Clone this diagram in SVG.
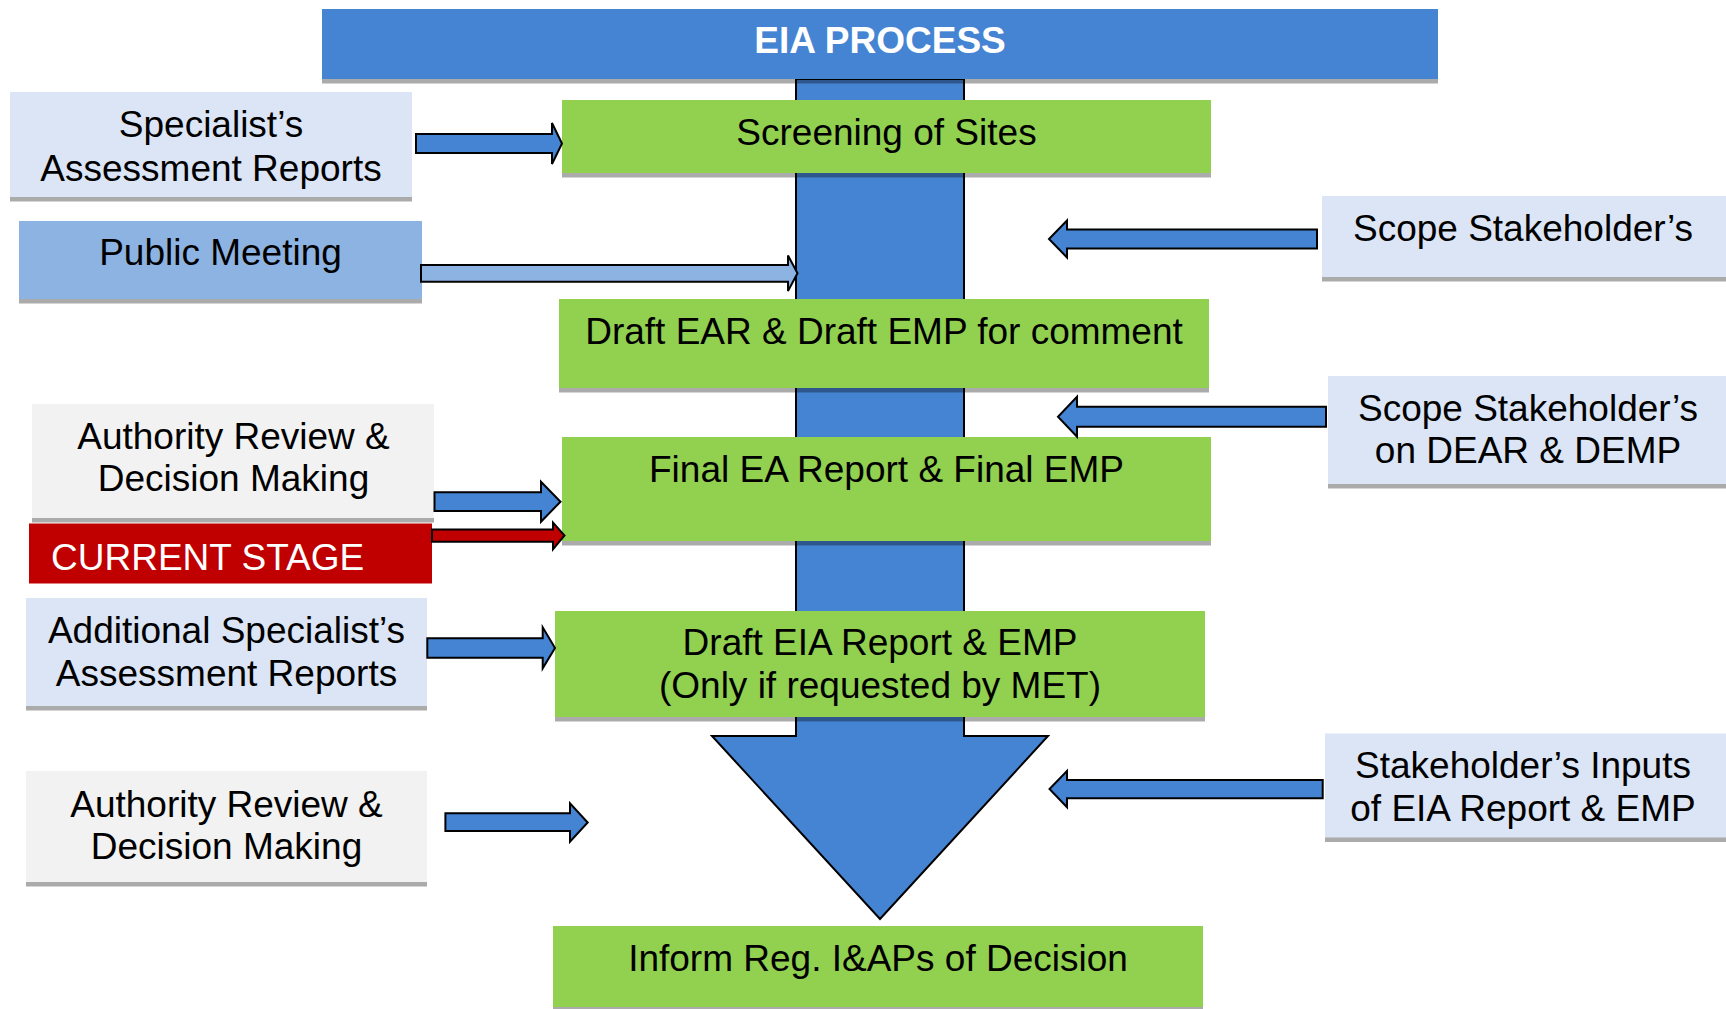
<svg xmlns="http://www.w3.org/2000/svg" width="1726" height="1009" viewBox="0 0 1726 1009">
<style>
  .t { font-family: "Liberation Sans", Arial, sans-serif; font-size: 37px; fill: #000; text-anchor: middle; }
  .tw { font-family: "Liberation Sans", Arial, sans-serif; font-size: 37px; fill: #fff; }
  .sh { fill: #000; fill-opacity: 0.33; }
  .green { fill: #92d050; }
  .lblue { fill: #dbe5f5; }
  .mblue { fill: #8db3e2; }
  .grey { fill: #f2f2f2; }
  .arr { fill: #4584d3; stroke: #000; stroke-width: 2; stroke-linejoin: miter; }
  .arr-l { fill: #8db3e2; stroke: #000; stroke-width: 2; }
  .arr-r { fill: #c00000; stroke: #000; stroke-width: 2; }
</style>
<rect width="1726" height="1009" fill="#fff"/>

<g id="spine">
  <polygon points="796,79 964,79 964,736 1048,736 880,919 712,736 796,736" fill="#4584d3" stroke="#000" stroke-width="2"/>
</g>

<g id="title">
  <rect class="sh" x="322" y="13.5" width="1116" height="70"/>
  <rect x="322" y="9" width="1116" height="70" fill="#4584d3"/>
  <text x="880" y="53" class="tw" font-weight="bold" text-anchor="middle">EIA PROCESS</text>
</g>

<g id="screening">
  <rect class="sh" x="562" y="104.5" width="649" height="73"/>
  <rect class="green" x="562" y="100" width="649" height="73"/>
  <text x="886.5" y="145" class="t">Screening of Sites</text>
</g>

<g id="draft-ear">
  <rect class="sh" x="559" y="303.5" width="650" height="89"/>
  <rect class="green" x="559" y="299" width="650" height="89"/>
  <text x="884" y="344" class="t">Draft EAR &amp; Draft EMP for comment</text>
</g>

<g id="final-ea">
  <rect class="sh" x="562" y="441.5" width="649" height="104"/>
  <rect class="green" x="562" y="437" width="649" height="104"/>
  <text x="886.5" y="482" class="t">Final EA Report &amp; Final EMP</text>
</g>

<g id="draft-eia">
  <rect class="sh" x="555" y="615.5" width="650" height="106"/>
  <rect class="green" x="555" y="611" width="650" height="106"/>
  <text x="880" y="655" class="t">Draft EIA Report &amp; EMP</text>
  <text x="880" y="697.5" class="t">(Only if requested by MET)</text>
</g>

<g id="inform">
  <rect class="sh" x="553" y="930.5" width="650" height="81"/>
  <rect class="green" x="553" y="926" width="650" height="81"/>
  <text x="878" y="971" class="t">Inform Reg. I&amp;APs of Decision</text>
</g>

<g id="specialist">
  <rect class="sh" x="10" y="96.5" width="402" height="105"/>
  <rect class="lblue" x="10" y="92" width="402" height="105"/>
  <text x="211" y="137" class="t">Specialist’s</text>
  <text x="211" y="180.5" class="t">Assessment Reports</text>
</g>

<g id="public-meeting">
  <rect class="sh" x="19" y="225.5" width="403" height="78"/>
  <rect class="mblue" x="19" y="221" width="403" height="78"/>
  <text x="220.5" y="265" class="t">Public Meeting</text>
</g>

<g id="scope-stakeholders">
  <rect class="sh" x="1322" y="200.5" width="404" height="81"/>
  <rect class="lblue" x="1322" y="196" width="404" height="81"/>
  <text x="1523" y="240.5" class="t">Scope Stakeholder’s</text>
</g>

<g id="scope-dear">
  <rect class="sh" x="1328" y="380.5" width="398" height="108"/>
  <rect class="lblue" x="1328" y="376" width="398" height="108"/>
  <text x="1528" y="421" class="t">Scope Stakeholder’s</text>
  <text x="1528" y="463" class="t">on DEAR &amp; DEMP</text>
</g>

<g id="authority-1">
  <rect class="sh" x="32" y="408.5" width="402" height="114"/>
  <rect class="grey" x="32" y="404" width="402" height="114"/>
  <text x="233.5" y="449" class="t">Authority Review &amp;</text>
  <text x="233.5" y="491" class="t">Decision Making</text>
</g>

<g id="current-stage">
  <rect x="29" y="523.5" width="403" height="60" fill="#c00000"/>
  <text x="51" y="570" class="tw">CURRENT STAGE</text>
</g>

<g id="additional-specialist">
  <rect class="sh" x="26" y="602.5" width="401" height="108"/>
  <rect class="lblue" x="26" y="598" width="401" height="108"/>
  <text x="226.5" y="643" class="t">Additional Specialist’s</text>
  <text x="226.5" y="685.5" class="t">Assessment Reports</text>
</g>

<g id="authority-2">
  <rect class="sh" x="26" y="775.5" width="401" height="111"/>
  <rect class="grey" x="26" y="771" width="401" height="111"/>
  <text x="226.5" y="817" class="t">Authority Review &amp;</text>
  <text x="226.5" y="858.5" class="t">Decision Making</text>
</g>

<g id="stakeholder-inputs">
  <rect class="sh" x="1325" y="738" width="401" height="104"/>
  <rect class="lblue" x="1325" y="733.5" width="401" height="104"/>
  <text x="1523" y="778" class="t">Stakeholder’s Inputs</text>
  <text x="1523" y="821" class="t">of EIA Report &amp; EMP</text>
</g>

<g id="connectors">
  <polygon class="arr" points="416,134 552,134 552,123 562,143.5 552,164 552,153 416,153"/>
  <polygon class="arr-l" points="421,265 788,265 788,255.5 797.5,273.3 788,291 788,281.7 421,281.7"/>
  <polygon class="arr" points="1317,229.5 1067,229.5 1067,220.5 1049,239 1067,257.5 1067,248.5 1317,248.5"/>
  <polygon class="arr" points="1326,406.7 1077,406.7 1077,396.7 1058,416.7 1077,436.7 1077,426.7 1326,426.7"/>
  <polygon class="arr" points="434.5,492.3 541,492.3 541,481.7 560.5,501.7 541,521.7 541,511 434.5,511"/>
  <polygon class="arr-r" points="432,529.5 553,529.5 553,522.7 564.5,535.5 553,549.3 553,541.7 432,541.7"/>
  <polygon class="arr" points="427.3,638.3 542.7,638.3 542.7,627.3 555,648 542.7,668.3 542.7,657.7 427.3,657.7"/>
  <polygon class="arr" points="445.4,813.3 570,813.3 570,803.3 587.7,822.5 570,841.7 570,831 445.4,831"/>
  <polygon class="arr" points="1322.7,780 1067,780 1067,771 1049.5,789 1067,807.3 1067,798.3 1322.7,798.3"/>
</g>
</svg>
